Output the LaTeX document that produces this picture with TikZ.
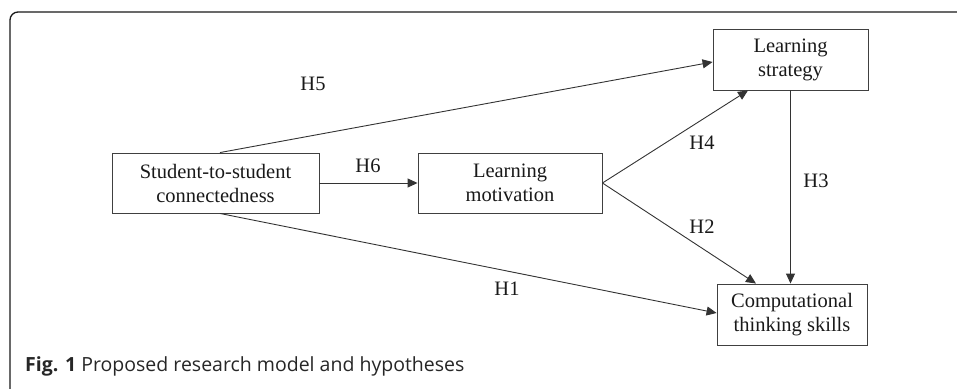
\documentclass[tikz,border=0pt]{standalone}
\usepackage{fontspec}
\setmainfont{Liberation Serif}
\newfontfamily\capfont{Open Sans}
\usetikzlibrary{arrows.meta,calc}
\begin{document}
\begin{tikzpicture}[x=1pt,y=-1pt,
  box/.style={draw=black!75,line width=0.9pt,rectangle,inner sep=0pt,align=center,
    font=\fontsize{20.5}{24}\selectfont,text=black!90},
  link/.style={draw=black!80,line width=0.9pt,-{Triangle[length=10pt,width=9pt]}},
  hlab/.style={font=\fontsize{20.5}{24}\selectfont,text=black!90,inner sep=0pt}]
\useasboundingbox (0,0) rectangle (957,388);
\draw[line width=1.3pt,black!90,rounded corners=8pt] (10,392) -- (10,12) -- (962,12);
\node[box,minimum width=207pt,minimum height=60pt] (S) at (215.5,183) {Student-to-student\\connectedness};
\node[box,minimum width=184pt,minimum height=60pt] (M) at (510,183) {Learning\\motivation};
\node[box,minimum width=155pt,minimum height=61pt] (LS) at (790.5,59.5) {Learning\\strategy};
\node[box,minimum width=150pt,minimum height=61pt] (CT) at (792,314.5) {Computational\\thinking skills};
\draw[link] ([xshift=4.5pt]S.north) -- ([yshift=-2.5pt]LS.west);
\draw[link] (S.east) -- (M.west);
\draw[link] (M.east) -- ([xshift=-42.5pt]LS.south);
\draw[link] (M.east) -- ([xshift=-36pt]CT.north);
\draw[link] (LS.south) -- (LS.south |- CT.north);
\draw[link] ([xshift=4.5pt]S.south) -- ([yshift=1.5pt]CT.west);
\node[hlab] (h5) at (313,84) {H5};
\node[hlab] (h6) at (368,166) {H6};
\node[hlab] (h4) at (702,143) {H4};
\node[hlab] (h2) at (702,227) {H2};
\node[hlab] (h3) at (816,181) {H3};
\node[hlab] (h1) at (507,289) {H1};
\node[anchor=west,inner sep=0pt,font=\capfont\fontsize{19.5}{22}\selectfont,text=black!85] (cap) at (25,366) {\textbf{Fig. 1} Proposed research model and hypotheses};
\end{tikzpicture}
\end{document}
